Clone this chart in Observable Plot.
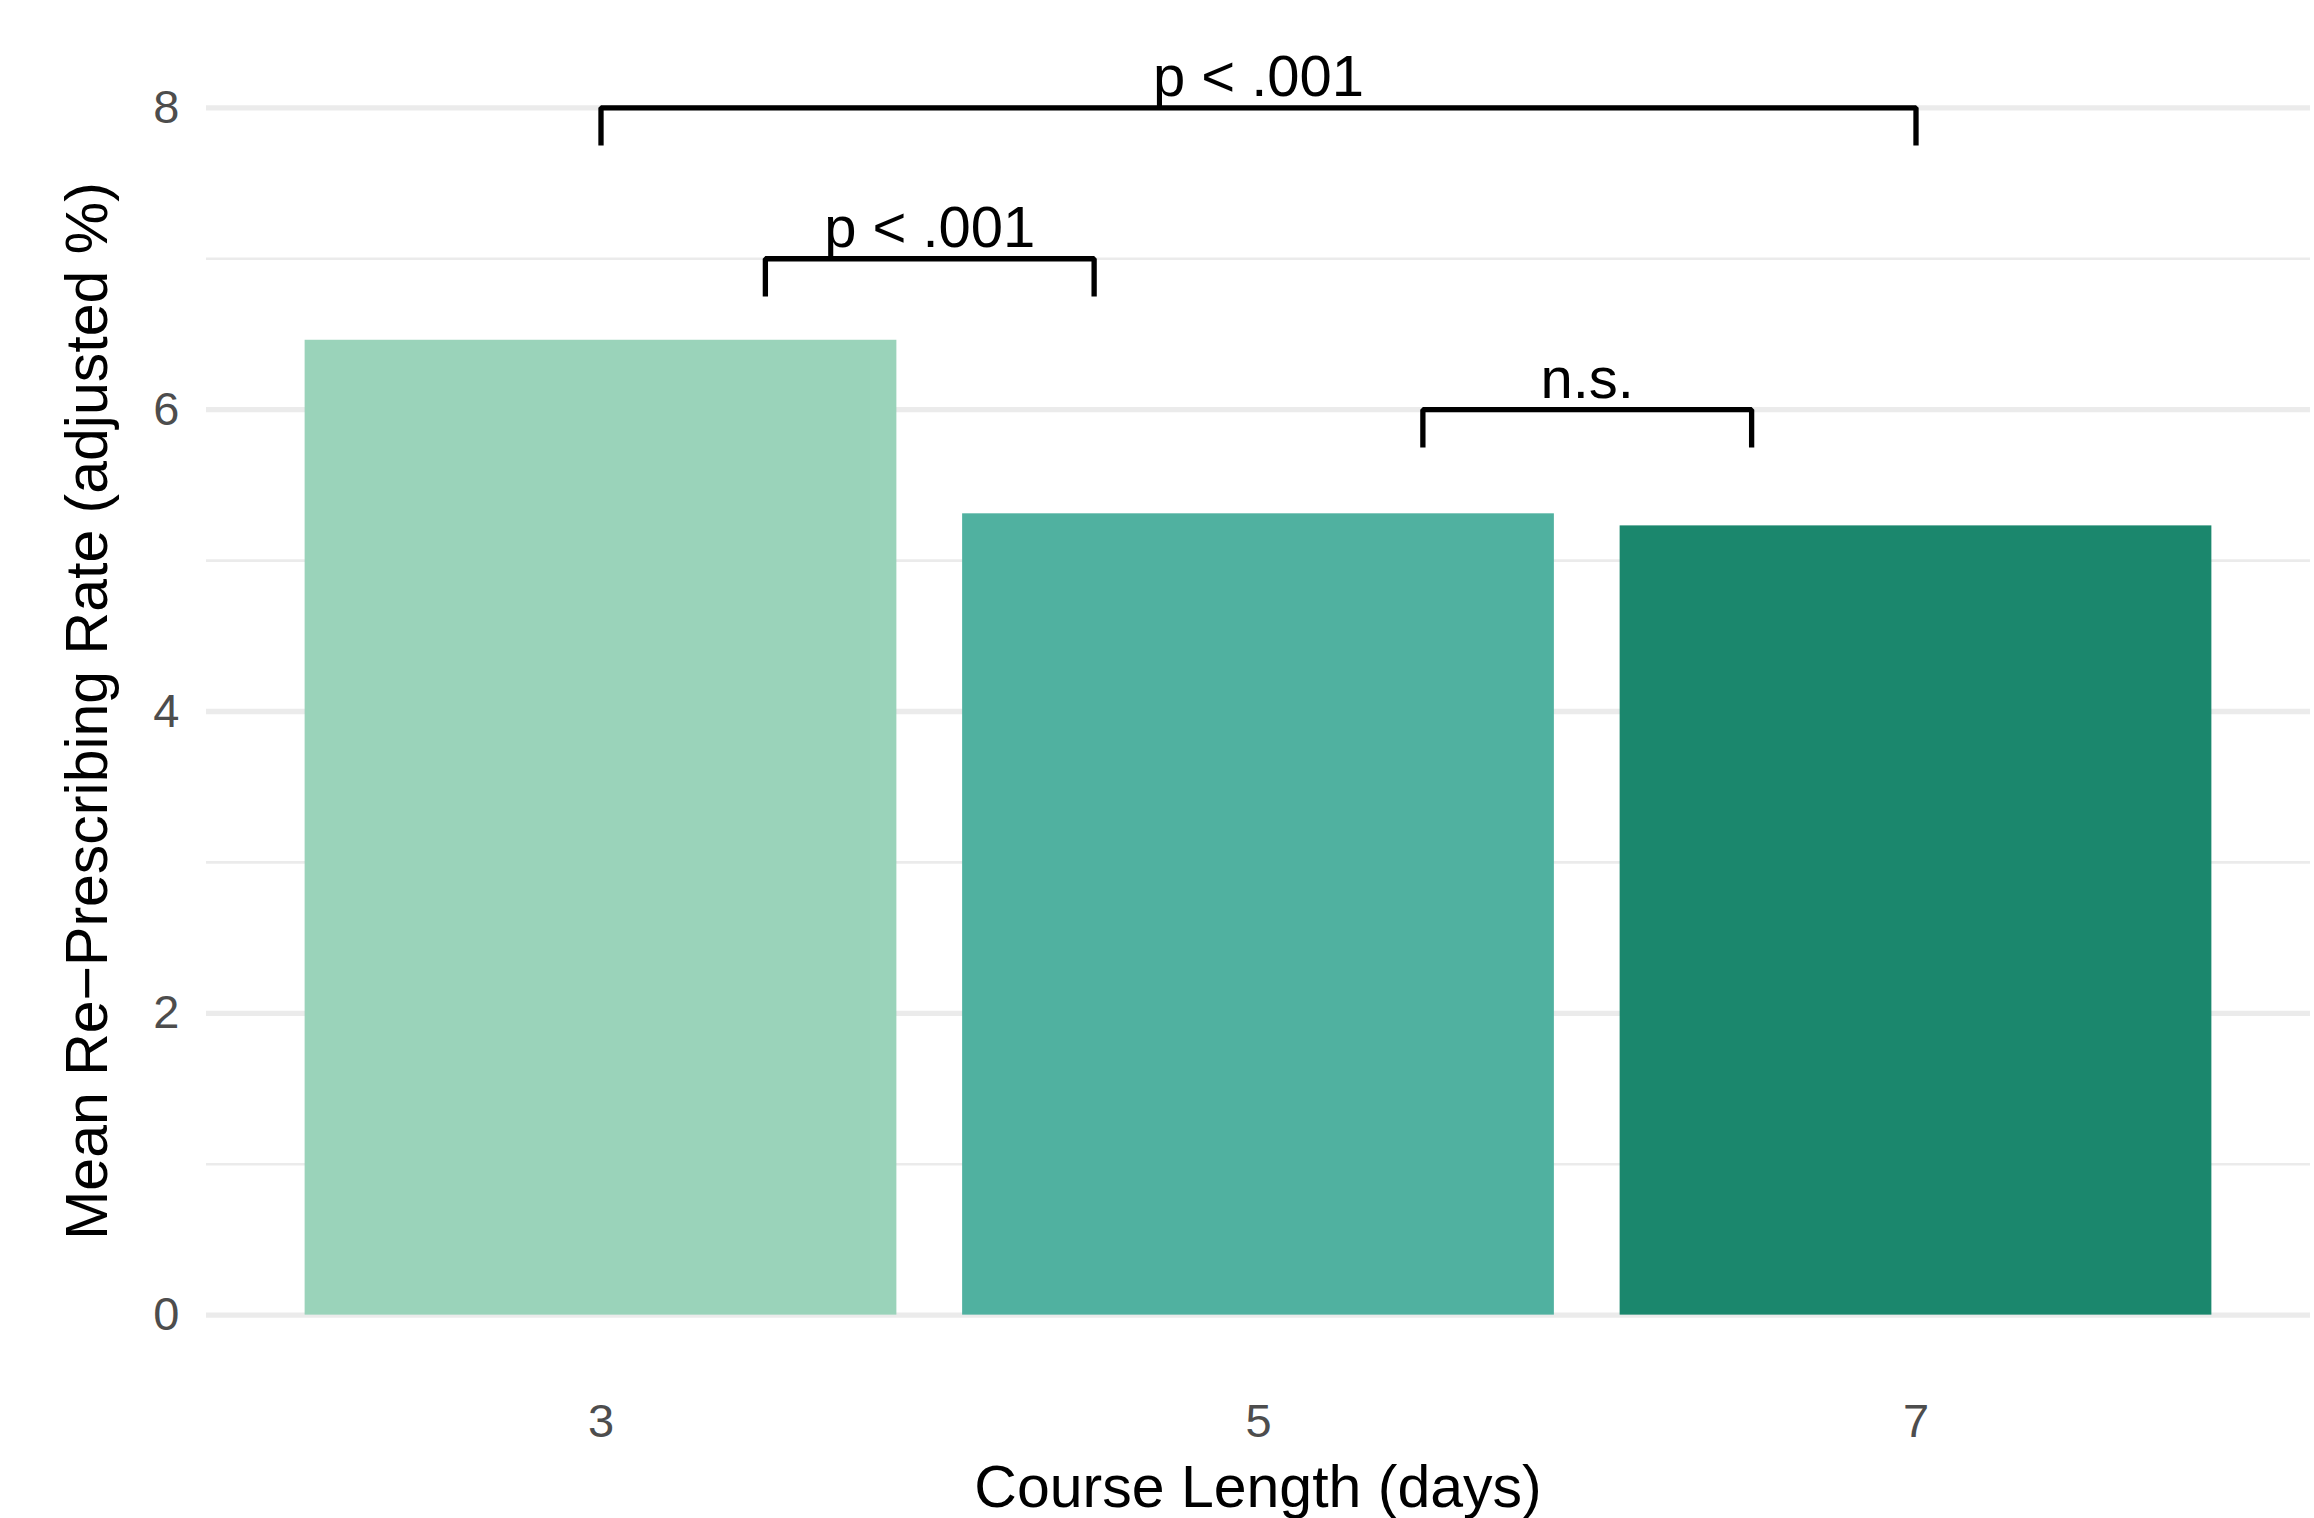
<!DOCTYPE html>
<html><head><meta charset="utf-8">
<script src="https://cdn.jsdelivr.net/npm/d3@7"></script>
<script src="https://cdn.jsdelivr.net/npm/@observablehq/plot@0.6"></script>
<style>body{margin:0;background:#fff;} svg{display:block;}</style>
</head><body><div id="chart"></div>
<script>
const courseLength = ["3", "5", "7"];
const meanRate = [6.46, 5.31, 5.23];
const barColors = ["#9AD3BA", "#50B1A0", "#1B876D"];
const yTicksMajor = [0, 2, 4, 6, 8];
const yTicksMinor = [1, 3, 5, 7];
const bracketXmin = [1, 1.25, 2.25];
const bracketXmax = [3, 1.75, 2.75];
const bracketY = [8, 7, 6];
const bracketLabel = ["p < .001", "p < .001", "n.s."];
const tipLength = 0.25;
const barWidth = 0.9;
const xTitle = "Course Length (days)";
const yTitle = "Mean Re\u2212Prescribing Rate (adjusted %)";

const bars = courseLength.map((c, i) => ({c, x1: i + 1 - barWidth / 2, x2: i + 1 + barWidth / 2, v: meanRate[i]}));
const brackets = bracketY.map((y, i) => ({id: i, xmin: bracketXmin[i], xmax: bracketXmax[i], y, label: bracketLabel[i]}));
const bracketPts = brackets.flatMap(b => [
  {id: b.id, x: b.xmin, y: b.y - tipLength},
  {id: b.id, x: b.xmin, y: b.y},
  {id: b.id, x: b.xmax, y: b.y},
  {id: b.id, x: b.xmax, y: b.y - tipLength}
]);

const font = "'Liberation Sans', Arial, Helvetica, sans-serif";
const W = 2314, H = 1518;
const mL = 206, mR = 4, mT = 47, mB = 143;
const chart = Plot.plot({
  width: W, height: H,
  marginLeft: mL, marginRight: mR, marginTop: mT, marginBottom: mB,
  style: {fontFamily: font, background: "#fff", overflow: "visible"},
  x: {domain: [0.4, 3.6], label: null},
  y: {domain: [-0.4, 8.4], label: null},
  color: {domain: courseLength, range: barColors},
  marks: [
    Plot.ruleY(yTicksMinor, {stroke: "#EBEBEB", strokeWidth: 2.7}),
    Plot.ruleY(yTicksMajor, {stroke: "#EBEBEB", strokeWidth: 5.3}),
    Plot.rect(bars, {x1: "x1", x2: "x2", y1: 0, y2: "v", fill: "c"}),
    Plot.line(bracketPts, {x: "x", y: "y", z: "id", stroke: "black", strokeWidth: 5.3, strokeLinejoin: "miter", strokeLinecap: "butt"}),
    Plot.text(brackets, {x: d => (d.xmin + d.xmax) / 2, y: "y", text: "label", lineAnchor: "bottom", dy: -12, fontSize: 58, fill: "black"}),
    Plot.axisX({ticks: [1, 2, 3], tickFormat: d => courseLength[d - 1], tickSize: 0, tickPadding: 28, fontSize: 47, color: "#4D4D4D", label: null}),
    Plot.axisY({ticks: yTicksMajor, tickSize: 0, tickPadding: 27, fontSize: 47, color: "#4D4D4D", label: null})
  ]
});
document.getElementById("chart").appendChild(chart);

const svg = d3.select(chart.tagName.toLowerCase() === "svg" ? chart : chart.querySelector("svg"));
svg.append("text")
  .attr("x", (mL + (W - mR)) / 2).attr("y", 1507)
  .attr("text-anchor", "middle").attr("font-size", 59).attr("fill", "black")
  .attr("font-family", font).text(xTitle);
svg.append("text")
  .attr("transform", `translate(107, ${(mT + (H - mB)) / 2}) rotate(-90)`)
  .attr("text-anchor", "middle").attr("font-size", 59).attr("fill", "black")
  .attr("font-family", font).text(yTitle);
</script>
</body></html>
